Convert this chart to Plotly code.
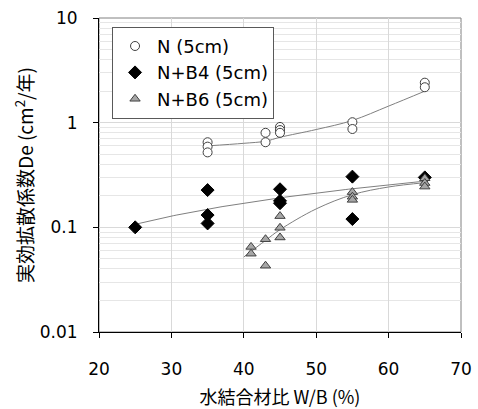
import numpy as np
import plotly.graph_objects as go

# N (5cm)
n_x = [35, 35, 35, 43, 43, 45, 45, 45, 55, 55, 65, 65]
n_y = [0.65, 0.59, 0.52, 0.80, 0.65, 0.91, 0.85, 0.80, 1.01, 0.87, 2.41, 2.18]
# N+B4 (5cm)
b4_x = [25, 35, 35, 35, 45, 45, 45, 55, 55, 65]
b4_y = [0.10, 0.227, 0.131, 0.109, 0.231, 0.179, 0.170, 0.305, 0.120, 0.30]
# N+B6 (5cm)
b6_x = [41, 41, 43, 43, 45, 45, 45, 55, 55, 55, 65, 65, 65]
b6_y = [0.065, 0.056, 0.077, 0.043, 0.128, 0.099, 0.080, 0.217, 0.196, 0.183, 0.294, 0.265, 0.245]

# trend lines
trend_n_x = [35, 40, 43, 45, 50, 55, 60, 65]
trend_n_y = [0.60, 0.635, 0.665, 0.725, 0.86, 1.05, 1.44, 2.0]
trend_b6_x = [40, 43, 45, 50, 55, 60, 65]
trend_b6_y = [0.052, 0.075, 0.095, 0.150, 0.205, 0.243, 0.267]

x_ticks = [20, 30, 40, 50, 60, 70]
y_ticks = [0.01, 0.1, 1, 10]
y_ticklabels = ["0.01", "0.1", "1", "10"]

FONT = "DejaVu Sans, sans-serif"
JP = "Noto Sans CJK JP, sans-serif"

fig = go.Figure()
trend_line = dict(color="#7f7f7f", width=1)
spline_line = dict(color="#7f7f7f", width=1, shape="spline", smoothing=1.0)
fig.add_trace(go.Scatter(x=trend_n_x, y=trend_n_y, mode="lines", line=spline_line,
                         showlegend=False, hoverinfo="skip"))
c = np.polyfit(b4_x, b4_y, 1)
tx = np.linspace(min(b4_x), max(b4_x), 100)
fig.add_trace(go.Scatter(x=tx, y=np.polyval(c, tx), mode="lines", line=trend_line,
                         showlegend=False, hoverinfo="skip"))
fig.add_trace(go.Scatter(x=trend_b6_x, y=trend_b6_y, mode="lines", line=spline_line,
                         showlegend=False, hoverinfo="skip"))

fig.add_trace(go.Scatter(x=n_x, y=n_y, mode="markers", name="N (5cm)",
                         marker=dict(symbol="circle", size=9, color="white",
                                     line=dict(color="#404040", width=1))))
fig.add_trace(go.Scatter(x=b4_x, y=b4_y, mode="markers", name="N+B4 (5cm)",
                         marker=dict(symbol="diamond", size=10, color="black",
                                     line=dict(color="black", width=1))))
fig.add_trace(go.Scatter(x=b6_x, y=b6_y, mode="markers", name="N+B6 (5cm)",
                         marker=dict(symbol="triangle-up", size=9, color="#a6a6a6",
                                     line=dict(color="#404040", width=1))))

fig.update_layout(
    width=478, height=409,
    margin=dict(l=99, r=17, t=18, b=77, autoexpand=False),
    paper_bgcolor="white", plot_bgcolor="white",
    font=dict(family=FONT, size=17, color="black"),
    legend=dict(x=0.036, y=0.972, xanchor="left", yanchor="top",
                bgcolor="white", bordercolor="#595959", borderwidth=1,
                font=dict(family=FONT, size=18), itemwidth=34,
                tracegroupgap=0),
    shapes=[dict(type="rect", xref="paper", yref="paper", x0=0, y0=0, x1=1, y1=1,
                 line=dict(color="#808080", width=1), layer="below")],
)
fig.update_xaxes(range=[20, 70], tickvals=x_ticks, ticks="outside", ticklen=5,
                 tickcolor="black", showline=True, linecolor="black", linewidth=1,
                 showgrid=True, gridcolor="#d9d9d9", gridwidth=1, zeroline=False,
                 automargin=False,
                 tickfont=dict(family=FONT, size=17), ticklabelstandoff=17,
                 title=dict(text="水結合材比 W/B (%)", font=dict(family=JP, size=18),
                            standoff=13))
fig.update_yaxes(type="log", range=[-2, 1], tickvals=y_ticks, ticktext=y_ticklabels,
                 ticks="outside", ticklen=5, tickcolor="black",
                 showline=True, linecolor="black", linewidth=1,
                 showgrid=True, gridcolor="#d9d9d9", gridwidth=1, zeroline=False,
                 automargin=False,
                 minor=dict(showgrid=True, gridcolor="#e6e6e6", gridwidth=1,
                            dtick="D1", ticks=""),
                 tickfont=dict(family=FONT, size=17), ticklabelstandoff=12,
                 title=dict(text="実効拡散係数De (cm<sup>2</sup>/年)",
                            font=dict(family=JP, size=19), standoff=1))

fig.write_html("out.html")
